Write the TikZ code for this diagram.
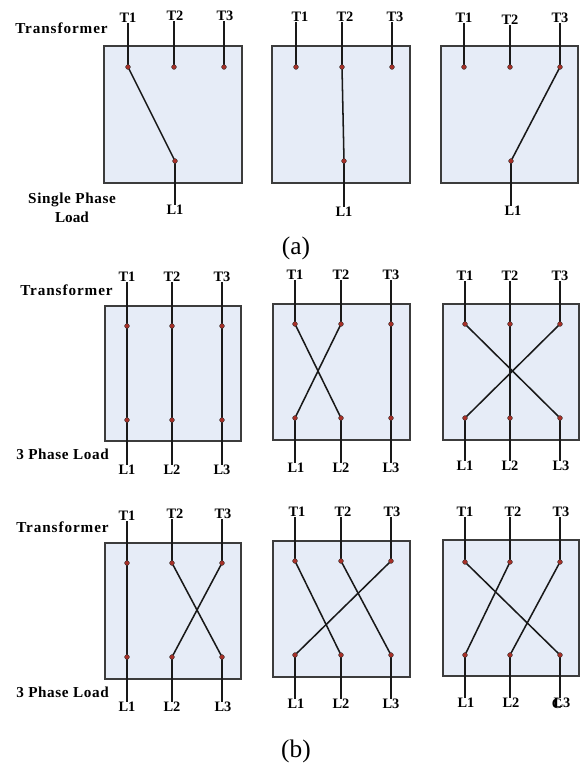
\documentclass[tikz,border=0pt]{standalone}
\usepackage{fontspec}
\setmainfont{Liberation Serif}
\definecolor{boxfill}{HTML}{E6ECF7}
\definecolor{boxline}{HTML}{3C3C3C}
\definecolor{dotred}{HTML}{A83028}
\pgfdeclarelayer{boxes}\pgfdeclarelayer{wires}
\pgfsetlayers{boxes,wires,main}
\tikzset{
  panelbox/.style={draw=boxline,fill=boxfill,line width=0.8pt},
  wire/.style={draw=black!90,line width=1.15pt},
  contact/.style={circle,draw=black!80,fill=dotred,line width=0.3pt,inner sep=0pt,minimum size=3.6pt},
  term/.style={inner sep=0pt,font=\bfseries\fontsize{10.8}{12}\selectfont},
  side/.style={inner sep=0pt,align=center,font=\bfseries\fontsize{11.4}{14.5}\selectfont},
  caption/.style={inner sep=0pt,font=\fontsize{19}{22}\selectfont}
}
\newcommand{\pbox}[5]{\begin{pgfonlayer}{boxes}\path[panelbox] (#2,#3) rectangle (#4,#5);\end{pgfonlayer}\def\pfx{#1}}
\newcommand{\tp}[6]{%
  \node[contact] (\pfx#1) at (#2,#3) {};
  \node[term] (\pfx#1l) at (#5,#6) {#4};
  \begin{pgfonlayer}{wires}\draw[wire] (\pfx#1.center) -- (\pfx#1.center |- \pfx#1l.south);\end{pgfonlayer}}
\newcommand{\bp}[6]{%
  \node[contact] (\pfx#1) at (#2,#3) {};
  \node[term] (\pfx#1l) at (#5,#6) {#4};
  \begin{pgfonlayer}{wires}\draw[wire] (\pfx#1.center) -- (\pfx#1.center |- \pfx#1l.north);\end{pgfonlayer}}
\newcommand{\lnk}[2]{\begin{pgfonlayer}{wires}\draw[wire] (\pfx#1.center) -- (\pfx#2.center);\end{pgfonlayer}}
\begin{document}
\begin{tikzpicture}[x=0.75pt,y=-0.75pt]
\useasboundingbox (0,0) rectangle (580,769);
\begin{pgfonlayer}{boxes}\fill[white] (0,0) rectangle (580,769);\end{pgfonlayer}
% (a)
\pbox{aa}{104}{46}{242}{183}
\tp{t1}{128}{67}{T1}{128}{18}\tp{t2}{174}{67}{T2}{175}{16}\tp{t3}{224}{67}{T3}{225}{16}
\bp{l1}{175}{161}{L1}{175}{210}\lnk{t1}{l1}
\pbox{ab}{272}{46}{410}{183}
\tp{t1}{296}{67}{T1}{300}{17}\tp{t2}{342}{67}{T2}{345}{17}\tp{t3}{392}{67}{T3}{395}{17}
\bp{l1}{344}{161}{L1}{344}{212}\lnk{t2}{l1}
\pbox{ac}{441}{46}{578}{183}
\tp{t1}{464}{67}{T1}{464}{18}\tp{t2}{510}{67}{T2}{510}{20}\tp{t3}{560}{67}{T3}{560}{18}
\bp{l1}{511}{161}{L1}{513}{211}\lnk{t3}{l1}
% (b) row 1
\pbox{ba}{105}{306}{241}{441}
\tp{t1}{127}{326}{T1}{127}{277}\tp{t2}{172}{326}{T2}{172}{277}\tp{t3}{222}{326}{T3}{222}{277}
\bp{l1}{127}{420}{L1}{127}{470}\bp{l2}{172}{420}{L2}{172}{470}\bp{l3}{222}{420}{L3}{222}{470}
\lnk{t1}{l1}\lnk{t2}{l2}\lnk{t3}{l3}
\pbox{bb}{273}{304}{410}{440}
\tp{t1}{295}{324}{T1}{295}{275}\tp{t2}{341}{324}{T2}{341}{275}\tp{t3}{391}{324}{T3}{391}{275}
\bp{l1}{295}{418}{L1}{296}{468}\bp{l2}{341}{418}{L2}{341}{468}\bp{l3}{391}{418}{L3}{391}{468}
\lnk{t1}{l2}\lnk{t2}{l1}\lnk{t3}{l3}
\pbox{bc}{443}{304}{579}{440}
\tp{t1}{465}{324}{T1}{465}{276}\tp{t2}{510}{324}{T2}{510}{276}\tp{t3}{560}{324}{T3}{560}{276}
\bp{l1}{465}{418}{L1}{465}{466}\bp{l2}{510}{418}{L2}{510}{466}\bp{l3}{560}{418}{L3}{561}{466}
\lnk{t1}{l3}\lnk{t2}{l2}\lnk{t3}{l1}
% (b) row 2
\pbox{ca}{105}{543}{241}{679}
\tp{t1}{127}{563}{T1}{127}{516}\tp{t2}{172}{563}{T2}{175}{514}\tp{t3}{222}{563}{T3}{223}{514}
\bp{l1}{127}{657}{L1}{127}{707}\bp{l2}{172}{657}{L2}{172}{707}\bp{l3}{222}{657}{L3}{223}{707}
\lnk{t1}{l1}\lnk{t2}{l3}\lnk{t3}{l2}
\pbox{cb}{273}{541}{410}{677}
\tp{t1}{295}{561}{T1}{297}{512}\tp{t2}{341}{561}{T2}{343}{512}\tp{t3}{391}{561}{T3}{392}{512}
\bp{l1}{295}{655}{L1}{296}{704}\bp{l2}{341}{655}{L2}{341}{704}\bp{l3}{391}{655}{L3}{391}{704}
\lnk{t1}{l2}\lnk{t2}{l3}\lnk{t3}{l1}
\pbox{cc}{443}{540}{579}{676}
\tp{t1}{465}{562}{T1}{465}{512}\tp{t2}{510}{562}{T2}{513}{512}\tp{t3}{560}{562}{T3}{561}{512}
\bp{l1}{465}{655}{L1}{466}{703}\bp{l2}{510}{655}{L2}{511}{703}\bp{l3}{560}{655}{L3}{562}{703}
\lnk{t1}{l3}\lnk{t2}{l1}\lnk{t3}{l2}
\node[term] (cover) at (557,704) {C};
% side labels
\node[side,anchor=west] (s1) at (15,28) {\addfontfeature{LetterSpace=6}Transformer};
\node[side] (s2) at (72,208) {\addfontfeature{LetterSpace=4}Single Phase\\Load};
\node[side,anchor=west] (s3) at (20,290) {\addfontfeature{LetterSpace=6}Transformer};
\node[side,anchor=west] (s4) at (16,454) {\addfontfeature{LetterSpace=4}3 Phase Load};
\node[side,anchor=west] (s5) at (16,527) {\addfontfeature{LetterSpace=6}Transformer};
\node[side,anchor=west] (s6) at (16,692) {\addfontfeature{LetterSpace=4}3 Phase Load};
\node[caption] (capa) at (296,248) {(a)};
\node[caption] (capb) at (296,751) {(b)};
\end{tikzpicture}
\end{document}
